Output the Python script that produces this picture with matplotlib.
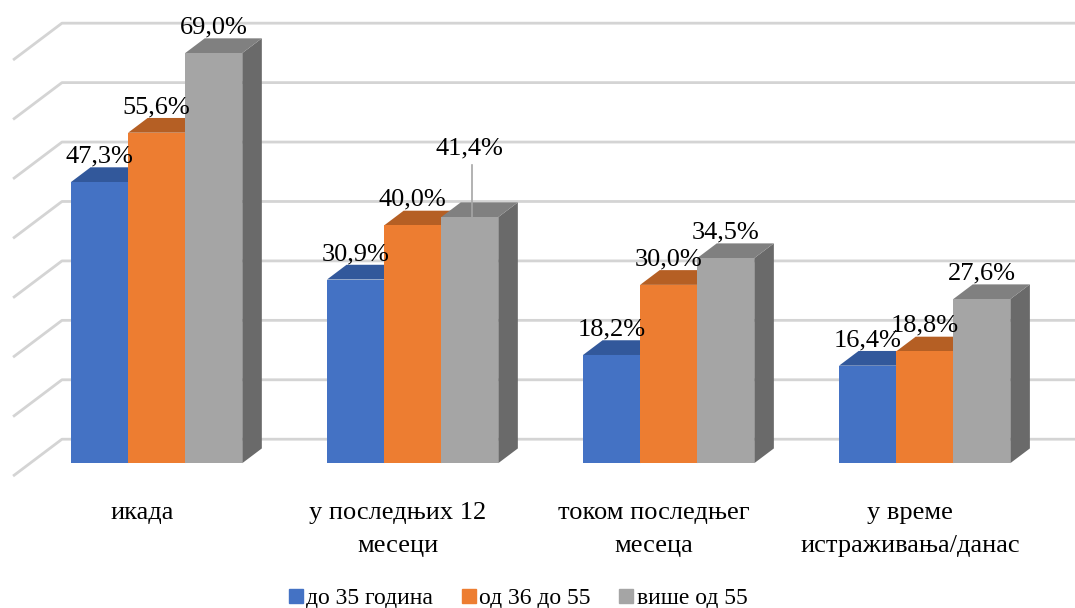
import matplotlib.pyplot as plt
from matplotlib.patches import Polygon
from matplotlib.lines import Line2D
import numpy as np

plt.rcParams['font.family'] = ['Liberation Serif', 'DejaVu Serif']

categories = ['икада', 'у последњих 12\nмесеци', 'током последњег\nмесеца',
              'у време\nистраживања/данас']
series_names = ['до 35 година', 'од 36 до 55', 'више од 55']
young = [47.3, 30.9, 18.2, 16.4]
middle = [55.6, 40.0, 30.0, 18.8]
older = [69.0, 41.4, 34.5, 27.6]
grid_values = np.arange(0, 80, 10)

front_colors = ['#4472C4', '#ED7D31', '#A5A5A5']
top_colors = ['#32589B', '#B55F24', '#808080']
side_colors = ['#2B4C86', '#9E5220', '#6A6A6A']

# depth direction of the fake 3d box (x in category units, y in percent)
DX, DY = 0.191, 6.2
Z_FRONT, Z_BACK = 0.35, 0.75
BAR_W = 0.223


def proj(x, y, z):
    return (x + z * DX, y + z * DY)


fig = plt.figure(figsize=(10.75, 6.08), dpi=100)
ax = fig.add_axes([0, 0, 1, 1])
ax.set_xlim(-0.545, 3.654)
ax.set_ylim(-22.2, 80.1)
ax.axis('off')

# floor edge + back wall gridlines
x_left, x_right = -0.494, 3.8
for v in grid_values:
    pts = [proj(x_left, v, 0), proj(x_left, v, 1), proj(x_right, v, 1)]
    xs, ys = zip(*pts)
    ax.plot(xs, ys, color='#d4d4d4', lw=2.0, zorder=1, solid_capstyle='butt')

series = [young, middle, older]
x = np.arange(len(categories))

for i in range(len(categories)):
    for j, vals in enumerate(series):
        v = vals[i]
        x0 = x[i] + (j - 1.5) * BAR_W
        x1 = x0 + BAR_W
        side = [proj(x1, 0, Z_FRONT), proj(x1, v, Z_FRONT),
                proj(x1, v, Z_BACK), proj(x1, 0, Z_BACK)]
        top = [proj(x0, v, Z_FRONT), proj(x1, v, Z_FRONT),
               proj(x1, v, Z_BACK), proj(x0, v, Z_BACK)]
        front = [proj(x0, 0, Z_FRONT), proj(x1, 0, Z_FRONT),
                 proj(x1, v, Z_FRONT), proj(x0, v, Z_FRONT)]
        z = 2 + i * 3 + j
        ax.add_patch(Polygon(side, closed=True, fc=side_colors[j], ec='none', zorder=z))
        ax.add_patch(Polygon(top, closed=True, fc=top_colors[j], ec='none', zorder=z))
        ax.add_patch(Polygon(front, closed=True, fc=front_colors[j], ec='none', zorder=z))

        lx, ly = proj(x0 + BAR_W / 2, v, Z_FRONT)
        label = f'{v:.1f}%'.replace('.', ',')
        if i == 1 and j == 2:
            # this label is lifted and tied back to its bar with a leader line
            ax.plot([lx + 0.009, lx + 0.009], [ly, ly + 8.7], color='#a6a6a6',
                    lw=1.2, zorder=30)
            ax.text(lx, ly + 11.6, label, ha='center', va='center',
                    fontsize=19, zorder=31)
        else:
            ax.text(lx, ly + 4.3, label, ha='center', va='center',
                    fontsize=19, zorder=31)

for i, cat in enumerate(categories):
    ax.text(x[i] + 0.01, -4.3, cat, ha='center', va='top', fontsize=19,
            linespacing=1.65)

handles = [Line2D([], [], ls='none', marker='s', markersize=9.5,
                  markerfacecolor=c, markeredgecolor=c) for c in front_colors]
fig.legend(handles, series_names, loc='center', bbox_to_anchor=(518 / 1075, 1 - 598 / 608),
           ncol=3, frameon=False, fontsize=17, handlelength=0.6, handletextpad=0.15,
           columnspacing=1.2, borderpad=0)

fig.savefig('out.png', dpi=100)
